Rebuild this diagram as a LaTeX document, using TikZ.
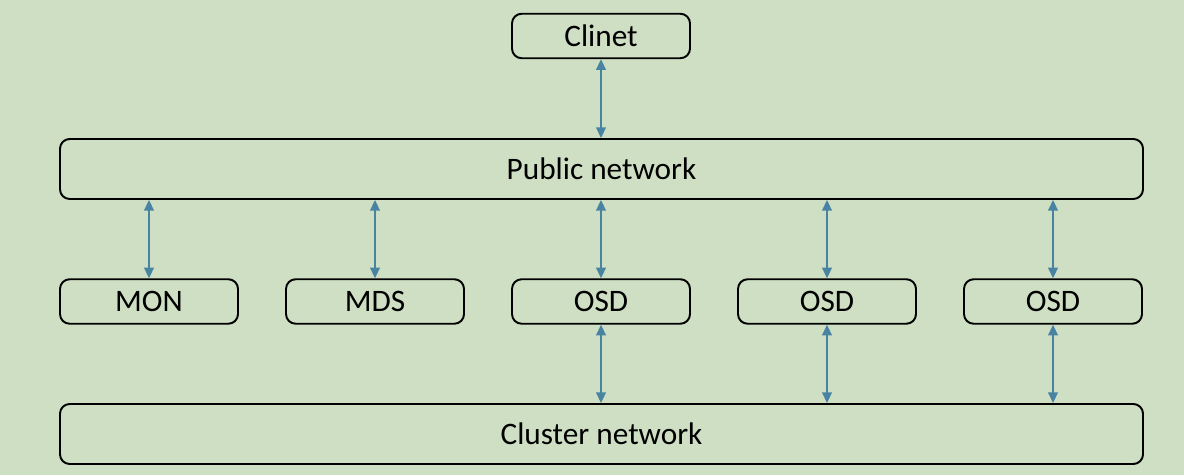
\documentclass[tikz,border=0pt]{standalone}
\usepackage{fontspec}
\setmainfont{Carlito}
\usetikzlibrary{arrows.meta}
\definecolor{bggreen}{RGB}{207,223,196}
\definecolor{linkblue}{RGB}{72,132,162}
\tikzset{
    box/.style={draw=black, line width=1.1pt, rounded corners=5.5pt, minimum width=3.56cm, minimum height=0.89cm, inner sep=0pt, font=\fontsize{17.8}{20}\selectfont},
    netbox/.style={box, minimum width=21.66cm, minimum height=1.2cm},
    link/.style={draw=linkblue, line width=0.85pt, {Triangle[length=6pt,width=5.5pt]}-{Triangle[length=6pt,width=5.5pt]}}
}
\begin{document}
\begin{tikzpicture}
    \fill[bggreen] (0,0) rectangle (23.68,9.5);
    \useasboundingbox (0,0) rectangle (23.68,9.5);
    \node[box] (client) at (12.02,8.78) {Clinet};
    \node[netbox] (public) at (12.03,6.12) {Public network};
    \node[box] (mon) at (2.98,3.47) {MON};
    \node[box] (mds) at (7.50,3.47) {MDS};
    \node[box] (osda) at (12.02,3.47) {OSD};
    \node[box] (osdb) at (16.54,3.47) {OSD};
    \node[box] (osdc) at (21.06,3.47) {OSD};
    \node[netbox] (cluster) at (12.03,0.82) {Cluster network};
    \draw[link] (client.south) -- (client.south |- public.north);
    \foreach \n in {mon,mds,osda,osdb,osdc}
        \draw[link] (\n.north |- public.south) -- (\n.north);
    \foreach \n in {osda,osdb,osdc}
        \draw[link] (\n.south) -- (\n.south |- cluster.north);
\end{tikzpicture}
\end{document}
